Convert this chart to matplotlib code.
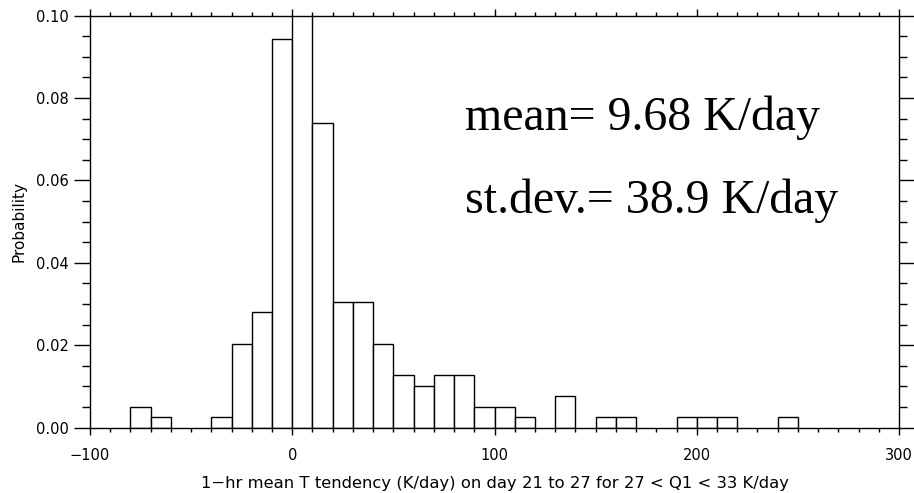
import matplotlib
matplotlib.use("Agg")
import matplotlib.pyplot as plt
from matplotlib.ticker import MultipleLocator, FormatStrFormatter

# histogram bins (left edges, width 10 K/day) and probabilities
bin_left = [-80, -70, -40, -30, -20, -10, 0, 10, 20, 30, 40, 50, 60, 70, 80,
            90, 100, 110, 130, 150, 160, 190, 200, 210, 240]
prob = [0.0051, 0.00255, 0.00255, 0.0204, 0.0281, 0.0944, 0.607, 0.074,
        0.0306, 0.0306, 0.0204, 0.01275, 0.0102, 0.01275, 0.01275,
        0.0051, 0.0051, 0.00255, 0.00765, 0.00255, 0.00255, 0.00255,
        0.00255, 0.00255, 0.00255]
bin_width = 10

mean_txt = "mean= 9.68 K/day"
std_txt = "st.dev.= 38.9 K/day"
xlabel = "1\u2212hr mean T tendency (K/day) on day 21 to 27 for 27 < Q1 < 33 K/day"

fig = plt.figure(figsize=(9.14, 4.93), dpi=100)
ax = fig.add_axes([0.0985, 0.1325, 0.8851, 0.8357])

ax.bar(bin_left, prob, width=bin_width, align="edge", facecolor="white",
       edgecolor="black", linewidth=1.0)

ax.set_xlim(-100, 300)
ax.set_ylim(0, 0.10)

ax.xaxis.set_major_locator(MultipleLocator(100))
ax.xaxis.set_minor_locator(MultipleLocator(10))
ax.yaxis.set_major_locator(MultipleLocator(0.02))
ax.yaxis.set_minor_locator(MultipleLocator(0.005))
ax.yaxis.set_major_formatter(FormatStrFormatter("%.2f"))

ax.tick_params(axis="x", which="both", direction="out", top=True, bottom=True,
               labeltop=False, width=1.0, labelsize=10.5, pad=9)
ax.tick_params(axis="x", which="major", length=5.3)
ax.tick_params(axis="x", which="minor", length=2.9)
ax.tick_params(axis="y", which="both", direction="out", left=True, right=True,
               labelright=False, width=1.0, labelsize=10.5, pad=3.5)
ax.tick_params(axis="y", which="major", length=11.5)
ax.tick_params(axis="y", which="minor", length=6)

for s in ax.spines.values():
  s.set_linewidth(1.0)

ax.set_xlabel(xlabel, fontsize=11.8, labelpad=10)
ax.set_ylabel("Probability", fontsize=11, labelpad=7)

ax.text(0.4635, 0.7226, mean_txt, transform=ax.transAxes, va="baseline",
        ha="left", family="Liberation Serif", fontsize=34.5)
ax.text(0.4635, 0.521, std_txt, transform=ax.transAxes, va="baseline",
        ha="left", family="Liberation Serif", fontsize=34.5)

fig.savefig("out.png", dpi=100)
